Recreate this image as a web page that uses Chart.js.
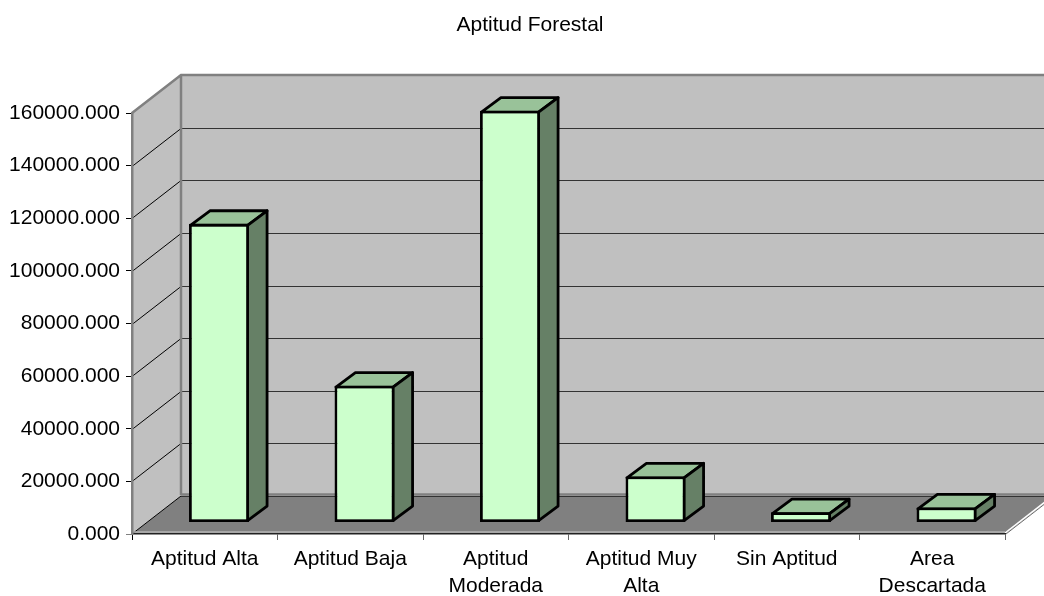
<!DOCTYPE html>
<html>
<head>
<meta charset="utf-8">
<title>Aptitud Forestal</title>
<script src="https://cdn.jsdelivr.net/npm/chart.js@4"></script>
<style>
  html, body { margin: 0; padding: 0; background: #fff; }
  canvas { display: block; }
</style>
</head>
<body>
<canvas id="myChart" width="1044" height="596"></canvas>
<script>
const categories = ["Aptitud Alta", "Aptitud Baja", ["Aptitud", "Moderada"], ["Aptitud Muy", "Alta"], "Sin Aptitud", ["Area", "Descartada"]];
const hectares = [113500, 52000, 156500, 17500, 3900, 5700];
const yTicks = [0, 20000, 40000, 60000, 80000, 100000, 120000, 140000, 160000];

// depth of the box the bars stand in, and of each bar inside it
const wallDepth = { x: 49, y: -38 };
const barDepth = { x: 19.5, y: -14.5 };
const barShift = { x: 14.25, y: -11.5 };

const fontFamily = '"Liberation Sans", Arial, sans-serif';
const fontSize = 21;

const box3d = {
  id: "box3d",
  afterLayout(chart) {
    // title sits over the middle of the box, not the whole canvas
    chart.titleBlock.left = 55;
  },
  beforeDraw(chart) {
    const { ctx, chartArea: a, scales } = chart;
    const d = wallDepth;
    ctx.save();
    // back wall
    ctx.fillStyle = "#c0c0c0";
    ctx.fillRect(a.left + d.x, a.top + d.y, a.right - a.left, a.bottom - a.top);
    // side wall
    ctx.beginPath();
    ctx.moveTo(a.left, a.top);
    ctx.lineTo(a.left + d.x, a.top + d.y);
    ctx.lineTo(a.left + d.x, a.bottom + d.y);
    ctx.lineTo(a.left, a.bottom);
    ctx.closePath();
    ctx.fill();
    // floor
    ctx.fillStyle = "#808080";
    ctx.beginPath();
    ctx.moveTo(a.left, a.bottom);
    ctx.lineTo(a.left + d.x, a.bottom + d.y);
    ctx.lineTo(a.right + d.x, a.bottom + d.y);
    ctx.lineTo(a.right, a.bottom);
    ctx.closePath();
    ctx.fill();

    // grid lines run along the side wall and across the back
    ctx.lineWidth = 1;
    yTicks.slice(1, -1).forEach(v => {
      const y = Math.round(scales.y.getPixelForValue(v)) + 0.5;
      ctx.strokeStyle = "#000";
      ctx.beginPath();
      ctx.moveTo(a.left, y);
      ctx.lineTo(a.left + d.x, y + d.y);
      ctx.stroke();
      ctx.strokeStyle = "#333";
      ctx.beginPath();
      ctx.moveTo(a.left + d.x, y + d.y);
      ctx.lineTo(a.right + d.x, y + d.y);
      ctx.stroke();
    });

    // wall outlines
    ctx.strokeStyle = "#808080";
    ctx.lineWidth = 2.5;
    ctx.beginPath();
    ctx.moveTo(a.left, a.top);
    ctx.lineTo(a.left + d.x, a.top + d.y);
    ctx.lineTo(a.right + d.x, a.top + d.y);
    ctx.moveTo(a.left + d.x, a.top + d.y);
    ctx.lineTo(a.left + d.x, a.bottom + d.y - 1);
    ctx.moveTo(a.left + d.x, a.bottom + d.y - 1.5);
    ctx.lineTo(a.right + d.x, a.bottom + d.y - 1.5);
    ctx.stroke();

    // edges of the floor
    ctx.strokeStyle = "#333";
    ctx.lineWidth = 1;
    ctx.beginPath();
    ctx.moveTo(a.left + d.x, a.bottom + d.y + 0.5);
    ctx.lineTo(a.right + d.x, a.bottom + d.y + 0.5);
    ctx.stroke();
    ctx.strokeStyle = "#000";
    ctx.beginPath();
    ctx.moveTo(a.left, a.bottom);
    ctx.lineTo(a.left + d.x, a.bottom + d.y);
    ctx.stroke();
    ctx.strokeStyle = "#b4b4b4";
    ctx.lineWidth = 1.5;
    ctx.beginPath();
    ctx.moveTo(a.left, a.bottom - 2);
    ctx.lineTo(a.right, a.bottom - 2);
    ctx.stroke();
    ctx.strokeStyle = "#fff";
    ctx.beginPath();
    ctx.moveTo(a.right, a.bottom - 1);
    ctx.lineTo(a.right + d.x, a.bottom + d.y - 1);
    ctx.stroke();
    ctx.strokeStyle = "#444";
    ctx.lineWidth = 0.8;
    ctx.beginPath();
    ctx.moveTo(a.right + 1, a.bottom);
    ctx.lineTo(a.right + d.x + 1, a.bottom + d.y);
    ctx.stroke();
    ctx.restore();
  },
  beforeDatasetDraw(chart, args) {
    const { ctx } = chart;
    const meta = chart.getDatasetMeta(args.index);
    ctx.save();
    ctx.translate(barShift.x, barShift.y);
    ctx.lineWidth = 2.8;
    ctx.lineJoin = "round";
    ctx.strokeStyle = "#000";
    meta.data.forEach(bar => {
      const p = bar.getProps(["x", "y", "base", "width"], true);
      const l = p.x - p.width / 2 + 1.4, r = p.x + p.width / 2 - 1.4;
      const t = p.y + 1.4, b = p.base - 1.4;
      const dx = barDepth.x, dy = barDepth.y;
      ctx.fillStyle = "#99c299";
      ctx.beginPath();
      ctx.moveTo(l, t);
      ctx.lineTo(l + dx, t + dy);
      ctx.lineTo(r + dx, t + dy);
      ctx.lineTo(r, t);
      ctx.closePath();
      ctx.fill();
      ctx.stroke();
      ctx.fillStyle = "#668066";
      ctx.beginPath();
      ctx.moveTo(r, t);
      ctx.lineTo(r + dx, t + dy);
      ctx.lineTo(r + dx, b + dy);
      ctx.lineTo(r, b);
      ctx.closePath();
      ctx.fill();
      ctx.stroke();
    });
    // the library draws the front faces inside this same shift
  },
  afterDatasetDraw(chart) {
    chart.ctx.restore();
  }
};

new Chart(document.getElementById("myChart"), {
  type: "bar",
  data: {
    labels: categories,
    datasets: [{
      label: "Aptitud Forestal",
      data: hectares,
      backgroundColor: "#ccffcc",
      borderColor: "#000",
      borderWidth: 2.8,
      borderSkipped: false,
      barPercentage: 0.412,
      categoryPercentage: 1,
      clip: false
    }]
  },
  options: {
    responsive: false,
    animation: false,
    layout: { padding: { right: 39, bottom: 0 } },
    plugins: {
      legend: { display: false },
      tooltip: { enabled: false },
      title: {
        display: true,
        text: "Aptitud Forestal",
        color: "#000",
        font: { family: fontFamily, size: fontSize, weight: "normal", lineHeight: 1.2 },
        padding: { top: 12.5, bottom: 75.3 }
      }
    },
    scales: {
      x: {
        afterFit(scale) { scale.height = 62; },
        grid: {
          drawOnChartArea: false,
          color: ctx => ctx.index === 0 ? "#000" : "#666",
          tickLength: 6
        },
        border: { color: "#222", width: 1.5 },
        ticks: {
          color: "#000",
          padding: 6,
          maxRotation: 0,
          autoSkip: false,
          font: { family: fontFamily, size: fontSize, lineHeight: 1.29 }
        }
      },
      y: {
        min: 0,
        max: 160000,
        afterFit(scale) { scale.width = 132; },
        afterBuildTicks(scale) { scale.ticks = yTicks.map(v => ({ value: v })); },
        grid: {
          drawOnChartArea: false,
          color: ctx => ctx.index === 0 ? "#808080" : "#000",
          tickLength: 6
        },
        border: { color: "#808080", width: 2.5 },
        ticks: {
          color: "#000",
          padding: 6,
          callback: v => v.toFixed(3),
          font: { family: fontFamily, size: fontSize }
        }
      }
    }
  },
  plugins: [box3d]
});
</script>
</body>
</html>
